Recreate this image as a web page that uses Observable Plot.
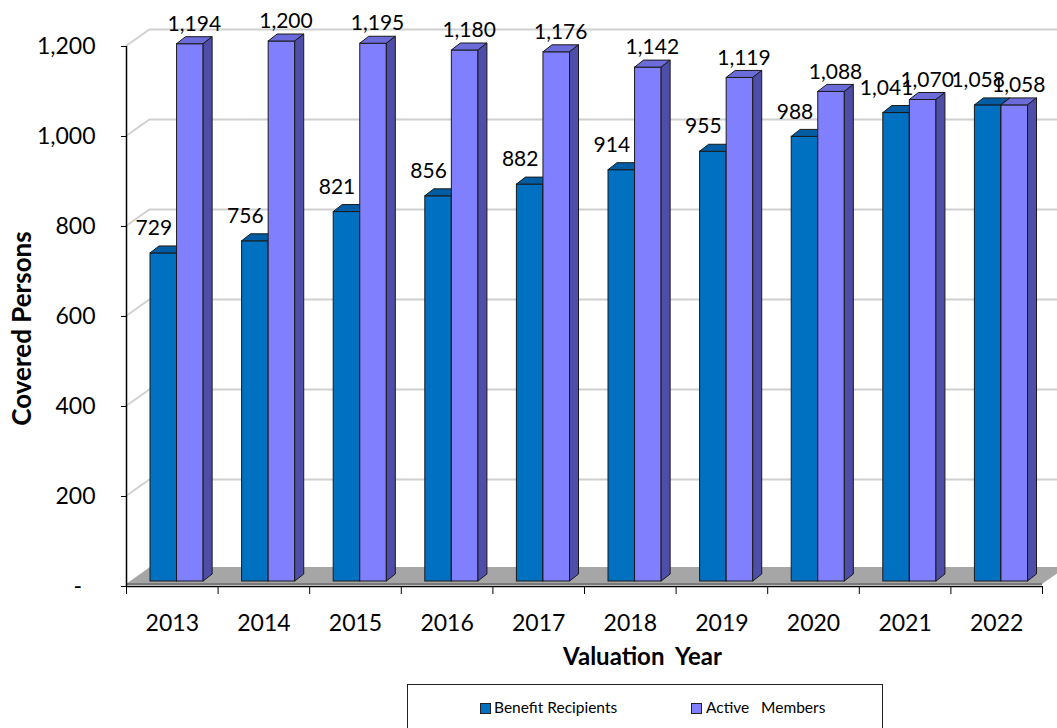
<!DOCTYPE html>
<html>
<head>
<meta charset="utf-8">
<script src="https://cdn.jsdelivr.net/npm/d3@7"></script>
<script src="https://cdn.jsdelivr.net/npm/@observablehq/plot@0.6"></script>
<style>
  body { margin: 0; background: #fff; font-family: Lato, sans-serif; overflow: hidden; }
  #chart svg { display: block; }
  #legend { position: relative; margin-top: 4px; margin-left: 407px; width: 476px; height: 50px;
            border: 1px solid #222; box-sizing: border-box; font: 15.5px Lato, sans-serif; color: #000; }
  #legend .sw { position: absolute; top: 18px; width: 9px; height: 9px; border: 1px solid #222; }
  #legend .lb { position: absolute; top: 13px; line-height: 18px; white-space: pre; }
</style>
</head>
<body>
<div id="chart"></div>
<div id="legend"></div>
<script>
// ---- data ----
const years = [2013, 2014, 2015, 2016, 2017, 2018, 2019, 2020, 2021, 2022];
const benefitRecipients = [729, 756, 821, 856, 882, 914, 955, 988, 1041, 1058];
const activeMembers = [1194, 1200, 1195, 1180, 1176, 1142, 1119, 1088, 1070, 1058];
const yTicks = [0, 200, 400, 600, 800, 1000, 1200];
const seriesNames = ["Benefit Recipients", "Active\u00a0\u00a0 Members"];

// ---- styles ----
const frontColors = ["#0070C0", "#8080FF"];
const topColors = ["#005DA3", "#6B6BDA"];
const sideColors = ["#004A85", "#4E4EA8"];
const edge = "#1a1a1a";

const rows = years.flatMap((year, i) => [
  {i, year, s: 0, value: benefitRecipients[i]},
  {i, year, s: 1, value: activeMembers[i]}
]);
const byS = s => rows.filter(d => d.s === s);

// 3D geometry (pixels) and bar slots (fraction of category)
const DX = 24, DY = -17, LIFT = -5, SD = 9, SH = 7;
const SLOT = [[0.262, 0.552], [0.552, 0.842]];

function polygon(g, pts, fill, stroke, sw = 1) {
  g.append("polygon")
    .attr("points", pts.map(p => p.join(",")).join(" "))
    .attr("fill", fill)
    .attr("stroke", stroke)
    .attr("stroke-width", sw)
    .attr("stroke-linejoin", "round");
}

function floorMark(index, {x, y}) {
  const g = d3.create("svg:g");
  const y0 = y(0) - 2, xa = x(0), xb = x(years.length);
  polygon(g, [[xa, y0], [xb, y0], [xb + DX, y0 + DY], [xa + DX, y0 + DY]], "#a6a6a6", "none");
  g.append("line").attr("x1", xa).attr("x2", xb).attr("y1", y0).attr("y2", y0)
    .attr("stroke", "#7a7a7a").attr("stroke-width", 2);
  return g.node();
}

function sideWall(index, {x, y}) {
  const g = d3.create("svg:g");
  for (const v of yTicks.slice(1)) {
    g.append("line")
      .attr("x1", x(0)).attr("y1", y(v))
      .attr("x2", x(0) + DX).attr("y2", y(v) + DY)
      .attr("stroke", "#d0d0d0").attr("stroke-width", 2);
  }
  return g.node();
}

function faces(s) {
  return (index, {x, y}) => {
    const g = d3.create("svg:g");
    for (const d of byS(s)) {
      const x1 = x(d.i + SLOT[s][0]), x2 = x(d.i + SLOT[s][1]);
      const yt = y(d.value) + LIFT, yb = y(0) + LIFT;
      polygon(g, [[x1, yt], [x2, yt], [x2 + SD, yt - SH], [x1 + SD, yt - SH]], topColors[s], edge);
      polygon(g, [[x2, yt], [x2 + SD, yt - SH], [x2 + SD, yb - SH], [x2, yb]], sideColors[s], edge);
    }
    return g.node();
  };
}

const fmt = d3.format(",");
const font = "Lato, sans-serif";

const chart = Plot.plot({
  width: 1057,
  height: 680,
  marginLeft: 126,
  marginRight: 15,
  marginTop: 46,
  marginBottom: 94,
  x: {type: "linear", domain: [0, years.length]},
  y: {domain: [0, 1200]},
  style: {fontFamily: font, color: "#000", background: "#fff"},
  marks: [
    floorMark,
    Plot.ruleY(yTicks.slice(1), {dx: DX, dy: DY, stroke: "#d0d0d0", strokeWidth: 2}),
    sideWall,
    Plot.rect(byS(0), {x1: d => d.i + SLOT[0][0], x2: d => d.i + SLOT[0][1], y1: 0, y2: "value",
      dy: LIFT, fill: frontColors[0], stroke: edge, strokeWidth: 1}),
    faces(0),
    Plot.rect(byS(1), {x1: d => d.i + SLOT[1][0], x2: d => d.i + SLOT[1][1], y1: 0, y2: "value",
      dy: LIFT, fill: frontColors[1], stroke: edge, strokeWidth: 1}),
    faces(1),
    Plot.ruleX([0], {stroke: "#000", strokeWidth: 1.5}),
    Plot.ruleY([0], {stroke: "#000", strokeWidth: 1.5}),
    Plot.axisY({ticks: yTicks, tickSize: 5, tickPadding: 26, fontSize: 23, label: null,
      tickFormat: v => v === 0 ? "-\u2007" : fmt(v)}),
    Plot.axisX({ticks: d3.range(years.length + 1), tickSize: 8, tickFormat: () => "", label: null}),
    Plot.axisX({ticks: years.map((_, i) => i + 0.5), tickSize: 0, tickPadding: 28, fontSize: 23,
      label: null, tickFormat: t => String(years[Math.floor(t)])}),
    Plot.text(byS(0), {x: d => d.i + (SLOT[0][0] + SLOT[0][1]) / 2, y: "value", text: d => fmt(d.value),
      dy: LIFT - 25, dx: -10, fontSize: 21}),
    Plot.text(byS(1), {x: d => d.i + (SLOT[1][0] + SLOT[1][1]) / 2, y: "value", text: d => fmt(d.value),
      dy: LIFT - 20, dx: 4, fontSize: 21}),
    Plot.text(["Covered Persons"], {text: d => d, frameAnchor: "left", textAnchor: "middle",
      dx: -104, dy: 12, rotate: -90, fontSize: 26, fontWeight: "bold"}),
    Plot.text(["Valuation\u00a0 Year"], {text: d => d, frameAnchor: "bottom", dx: 58, dy: 78,
      fontSize: 24, fontWeight: "bold"})
  ]
});
document.getElementById("chart").append(chart);

// ---- legend (below the SVG) ----
const legend = d3.select("#legend");
const legendPos = [[72, 86], [283, 298]];
seriesNames.forEach((name, s) => {
  legend.append("span").attr("class", "sw").style("left", legendPos[s][0] + "px").style("background", frontColors[s]);
  legend.append("span").attr("class", "lb").style("left", legendPos[s][1] + "px").text(name);
});
</script>
</body>
</html>
